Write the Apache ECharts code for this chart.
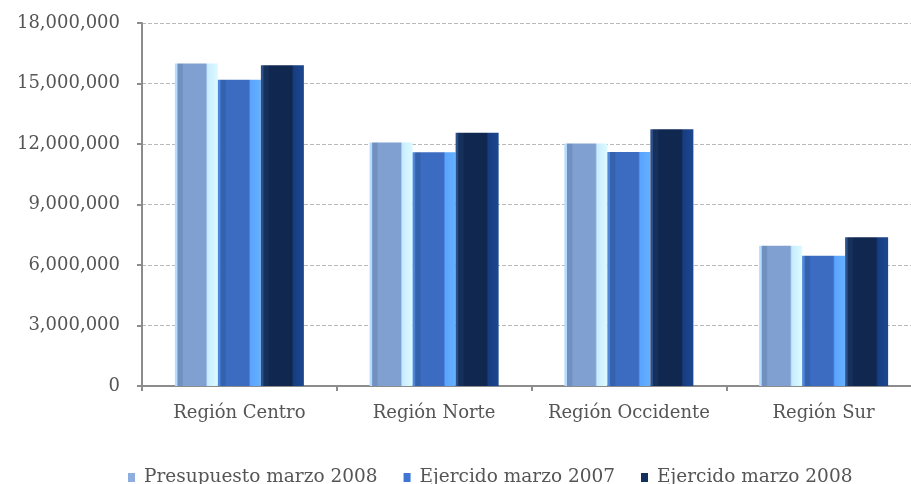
<!DOCTYPE html>
<html>
<head>
<meta charset="utf-8">
<script src="https://cdn.jsdelivr.net/npm/echarts@6/dist/echarts.min.js"></script>
<style>
  html, body { margin: 0; padding: 0; background: #ffffff; }
  #chart { width: 911px; height: 484px; }
</style>
</head>
<body>
<div id="chart"></div>
<script>
// Regional budget vs. spending, March 2007/2008
const categories = ['Región Centro', 'Región Norte', 'Región Occidente', 'Región Sur'];
const seriesNames = ['Presupuesto marzo 2008', 'Ejercido marzo 2007', 'Ejercido marzo 2008'];
const presupuesto2008 = [15990000, 12080000, 12030000, 6960000];
const ejercido2007 = [15180000, 11590000, 11600000, 6460000];
const ejercido2008 = [15910000, 12560000, 12730000, 7370000];
const yTicks = [0, 3000000, 6000000, 9000000, 12000000, 15000000, 18000000];

const FONT = 'DejaVu Serif';

// horizontal gradient imitating a bevelled column face
function bevel(edge, shade, face, highlight, rim) {
  return {
    type: 'linear', x: 0, y: 0, x2: 1, y2: 0,
    colorStops: [
      { offset: 0, color: edge },
      { offset: 0.05, color: edge },
      { offset: 0.07, color: shade },
      { offset: 0.17, color: shade },
      { offset: 0.2, color: face },
      { offset: 0.72, color: face },
      { offset: 0.76, color: highlight },
      { offset: 1, color: rim }
    ]
  };
}

const palettes = [
  { fill: bevel('#b5dcff', '#7090c0', '#80a0d2', '#c8ecff', '#dcfaff'), icon: '#8eaee0' },
  { fill: bevel('#4d86dc', '#3462ad', '#3b6cc2', '#5aa4ff', '#66b0ff'), icon: '#3f76d4' },
  { fill: bevel('#2c4f86', '#16305c', '#10274f', '#173d80', '#1c4790'), icon: '#13305e' }
];

const values = [presupuesto2008, ejercido2007, ejercido2008];

const chart = echarts.init(document.getElementById('chart'), null, { renderer: 'canvas' });

chart.setOption({
  backgroundColor: '#ffffff',
  animation: false,
  // plot runs past the right edge of the canvas
  grid: { left: 142, width: 779, top: 23, height: 363, containLabel: false, outerBoundsMode: 'none' },
  legend: {
    left: 123,
    top: 463,
    itemWidth: 7,
    itemHeight: 9,
    itemGap: 26,
    icon: 'rect',
    textStyle: { fontFamily: FONT, fontSize: 18.5, color: '#555555', padding: [0, 0, 0, 4] },
    data: seriesNames.map((n, i) => ({ name: n, itemStyle: { color: palettes[i].icon } }))
  },
  xAxis: {
    type: 'category',
    data: categories,
    axisLine: { lineStyle: { color: '#8c8c8c', width: 2 } },
    axisTick: { show: true, alignWithLabel: false, length: 5, lineStyle: { color: '#8c8c8c', width: 2 } },
    axisLabel: { interval: 0, fontFamily: FONT, fontSize: 18, color: '#555555', margin: 18 }
  },
  yAxis: {
    type: 'value',
    min: yTicks[0],
    max: yTicks[yTicks.length - 1],
    interval: yTicks[1] - yTicks[0],
    axisLine: { show: true, lineStyle: { color: '#8c8c8c', width: 2 } },
    axisTick: { show: true, inside: false, length: 5, lineStyle: { color: '#8c8c8c', width: 2 } },
    axisLabel: {
      fontFamily: FONT, fontSize: 18, color: '#555555', margin: 22,
      formatter: v => v.toLocaleString('en-US')
    },
    splitLine: { show: true, lineStyle: { color: '#b8b8b8', type: [4, 2], width: 1 } }
  },
  series: seriesNames.map((name, i) => ({
    name,
    type: 'bar',
    data: values[i],
    barWidth: 43,
    barGap: '0%',
    itemStyle: { color: palettes[i].fill },
    emphasis: { disabled: true }
  }))
});
</script>
</body>
</html>
